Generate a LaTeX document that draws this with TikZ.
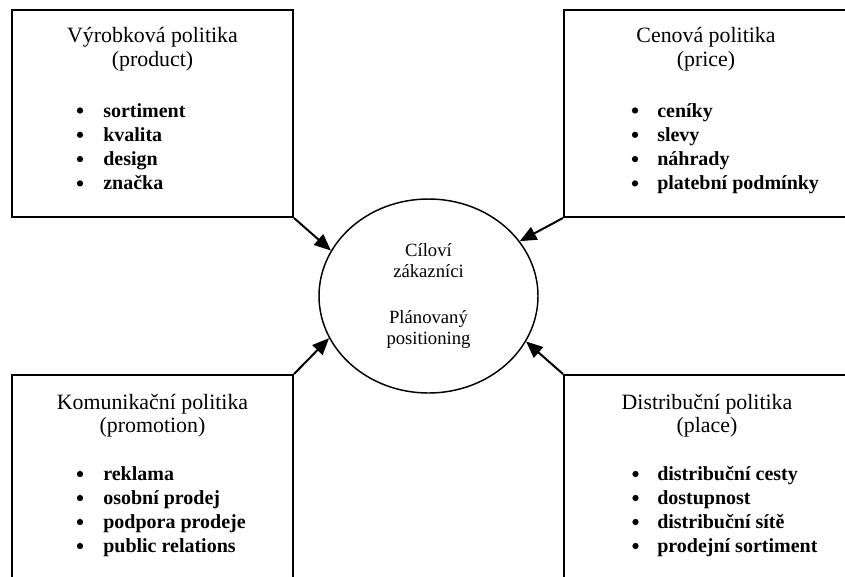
\documentclass[tikz,border=0pt]{standalone}
\usepackage{fontspec}
\setmainfont{Liberation Serif}
\usetikzlibrary{arrows.meta,shapes.geometric}
\begin{document}
\begin{tikzpicture}[x=0.75pt,y=-0.75pt,
  box/.style={draw,line width=1.5pt,rectangle,inner sep=0pt,minimum height=155.25pt},
  target/.style={draw,line width=1.1pt,ellipse,inner sep=0pt,minimum width=164.25pt,minimum height=145.5pt,
    align=center,font=\fontsize{14}{16}\selectfont},
  ttl/.style={anchor=base,inner sep=0pt,font=\fontsize{16.4}{19}\selectfont},
  bul/.style={circle,fill,inner sep=0pt,minimum size=4.7pt},
  itm/.style={anchor=base west,inner sep=0pt,font=\fontsize{15}{18}\selectfont\bfseries},
  arr/.style={line width=1.5pt,-{Triangle[length=12.5pt,width=10.5pt]}}]
\useasboundingbox (0,0) rectangle (845,576);
\clip (0,0) rectangle (845,576);
% boxes
\node[box,minimum width=210.75pt] (tl) at (152.5,113.5) {};
\node[box,minimum width=213pt] (tr) at (706,113.5) {};
\node[box,minimum width=210.75pt] (bl) at (152.5,478.5) {};
\node[box,minimum width=213pt] (br) at (706,478.5) {};
% centre
\node[target] (c) at (428.5,296) {Cíloví\\zákazníci\\[18pt]Plánovaný\\positioning};
% titles
\node[ttl] (tlt1) at (152.5,42) {Výrobková politika};
\node[ttl] (tlt2) at (152.5,66.5) {(product)};
\node[ttl] (trt1) at (706,42) {Cenová politika};
\node[ttl] (trt2) at (706,66.5) {(price)};
\node[ttl] (blt1) at (152.5,409) {Komunikační politika};
\node[ttl] (blt2) at (152.5,432.5) {(promotion)};
\node[ttl] (brt1) at (707,409) {Distribuční politika};
\node[ttl] (brt2) at (707,432.5) {(place)};
% lists
\foreach \t [count=\i] in {sortiment,kvalita,design,značka}{
  \node[bul] (tlb\i) at (80,{117-6.5+24.3*(\i-1)}) {};
  \node[itm] (tli\i) at (103,{117+24.3*(\i-1)}) {\t};
}
\foreach \t [count=\i] in {ceníky,slevy,náhrady,platební podmínky}{
  \node[bul] (trb\i) at (635,{117-6.5+24.3*(\i-1)}) {};
  \node[itm] (tri\i) at (657,{117+24.3*(\i-1)}) {\t};
}
\foreach \t [count=\i] in {reklama,osobní prodej,podpora prodeje,public relations}{
  \node[bul] (blb\i) at (80,{480.5-6.5+24*(\i-1)}) {};
  \node[itm] (bli\i) at (103,{480.5+24*(\i-1)}) {\t};
}
\foreach \t [count=\i] in {distribuční cesty,dostupnost,distribuční sítě,prodejní sortiment}{
  \node[bul] (brb\i) at (635.5,{480.5-6.5+24*(\i-1)}) {};
  \node[itm] (bri\i) at (657,{480.5+24*(\i-1)}) {\t};
}
% arrows
\draw[arr] (tl.south east) -- (c.155);
\draw[arr] (tr.south west) -- (c.31);
\draw[arr] (bl.north east) -- (c.203);
\draw[arr] (br.north west) -- (c.335);
\end{tikzpicture}
\end{document}
